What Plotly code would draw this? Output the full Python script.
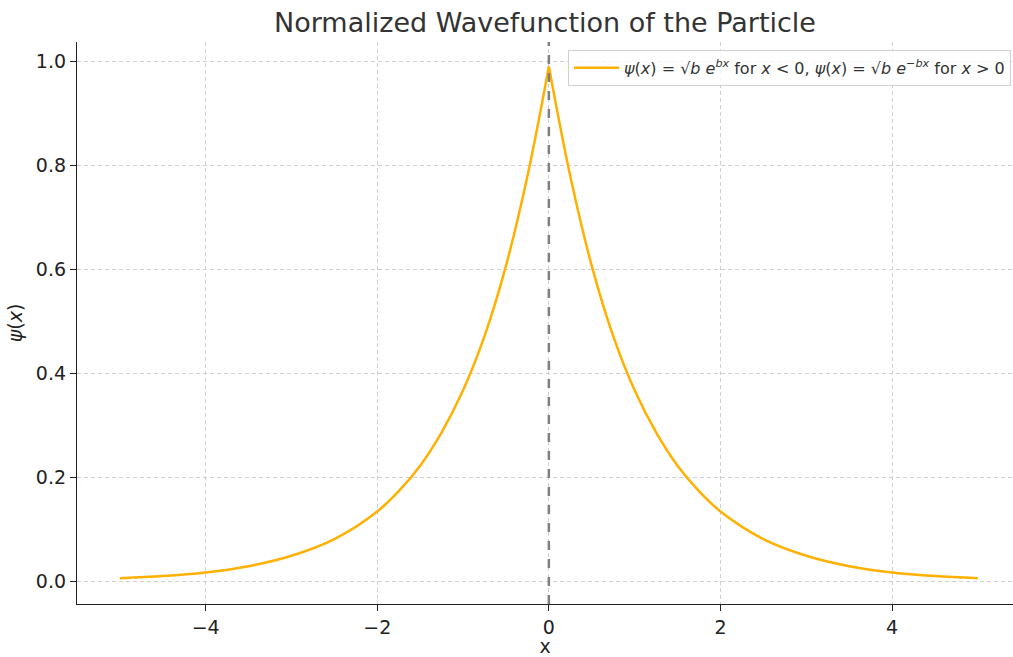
import plotly.graph_objects as go

# Values
x_left = [-5.0, -4.5, -4.0, -3.5, -3.0, -2.5, -2.0, -1.75, -1.5, -1.25, -1.0, -0.75, -0.5, -0.25, 0.0]
psi_left = [0.007, 0.011, 0.018, 0.030, 0.050, 0.082, 0.135, 0.174, 0.223, 0.287, 0.368, 0.472, 0.607, 0.779, 0.990]
x_right = [0.0, 0.25, 0.5, 0.75, 1.0, 1.25, 1.5, 1.75, 2.0, 2.5, 3.0, 3.5, 4.0, 4.5, 5.0]
psi_right = [0.990, 0.779, 0.607, 0.472, 0.368, 0.287, 0.223, 0.174, 0.135, 0.082, 0.050, 0.030, 0.018, 0.011, 0.007]
x_ticks = [-4, -2, 0, 2, 4]
y_ticks = [0.0, 0.2, 0.4, 0.6, 0.8, 1.0]

LINE = "#FFB000"
FONT = "DejaVu Sans"
legend_name = ("<i>ψ</i>(<i>x</i>) = √<i>b</i> <i>e</i><sup><i>bx</i></sup> for <i>x</i> &lt; 0, "
               "<i>ψ</i>(<i>x</i>) = √<i>b</i> <i>e</i><sup>−<i>bx</i></sup> for <i>x</i> &gt; 0")

fig = go.Figure()
fig.add_trace(go.Scatter(x=x_left, y=psi_left, mode="lines", name=legend_name,
                         legendgroup="psi", line=dict(color=LINE, width=2.5, shape="spline")))
fig.add_trace(go.Scatter(x=x_right, y=psi_right, mode="lines", name=legend_name,
                         legendgroup="psi", showlegend=False,
                         line=dict(color=LINE, width=2.5, shape="spline")))

fig.add_shape(type="line", xref="x", yref="paper", x0=0, x1=0, y0=0, y1=1,
              line=dict(color="#808080", width=2.5, dash="dash"), layer="above")

fig.update_layout(
    width=1013, height=657,
    paper_bgcolor="white", plot_bgcolor="white",
    margin=dict(l=77, r=0, t=42, b=53),
    font=dict(family=FONT, size=19, color="#222222"),
    title=dict(text="Normalized Wavefunction of the Particle", x=0.5, xref="paper",
               xanchor="center", y=1 - 23 / 657, yanchor="middle",
               font=dict(size=27, color="#333333", family=FONT)),
    showlegend=True,
    legend=dict(x=0.5246, y=0.986, xanchor="left", yanchor="top", itemwidth=45,
                bgcolor="rgba(255,255,255,0.8)", bordercolor="#d0d0d0", borderwidth=1,
                font=dict(size=16, color="#333333", family=FONT)),
    xaxis=dict(range=[-5.5, 5.41], tickvals=x_ticks,
               ticktext=["−4", "−2", "0", "2", "4"],
               showgrid=True, gridcolor="#d0d0d0", griddash="4px,3px", gridwidth=1,
               showline=True, linecolor="#222222", linewidth=1.3,
               ticks="outside", ticklen=6, tickcolor="#222222", tickwidth=1.3,
               zeroline=False, title=dict(text="x", font=dict(size=19), standoff=6)),
    yaxis=dict(range=[-0.0427, 1.037], tickvals=y_ticks,
               ticktext=["0.0", "0.2", "0.4", "0.6", "0.8", "1.0"],
               showgrid=True, gridcolor="#d0d0d0", griddash="4px,3px", gridwidth=1,
               showline=True, linecolor="#222222", linewidth=1.3,
               ticks="outside", ticklen=6, tickcolor="#222222", tickwidth=1.3,
               zeroline=False, title=dict(text="<i>ψ</i>(<i>x</i>)", font=dict(size=19), standoff=8)),
)

fig.write_html("out.html")
